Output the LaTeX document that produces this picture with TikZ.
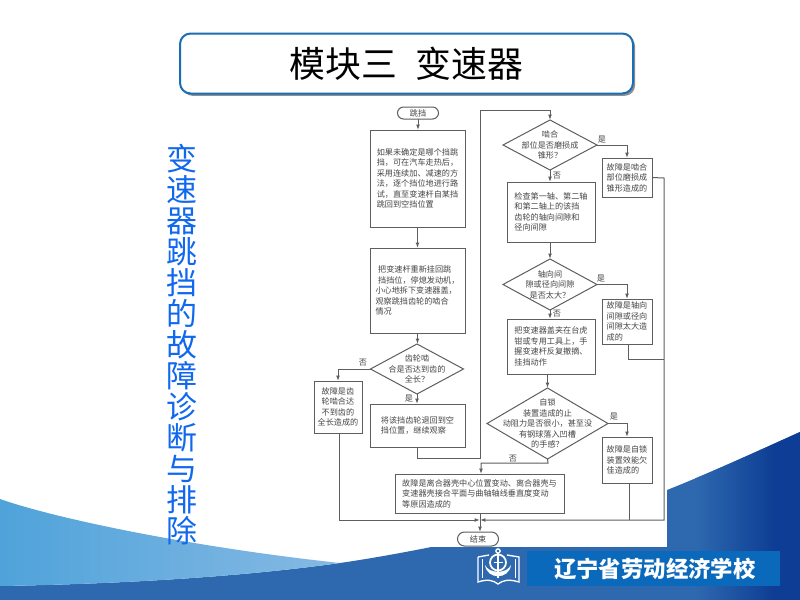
\documentclass[tikz,border=0pt]{standalone}
\usepackage{fontspec}
\setmainfont{Noto Sans CJK SC}
\usetikzlibrary{shapes.geometric,shapes.misc,arrows.meta,shadows}
\definecolor{ln}{HTML}{5E5E5E}
\definecolor{txt}{HTML}{454545}
\definecolor{deepb}{HTML}{2E69AF}
\definecolor{navyb}{HTML}{0D3D94}
\definecolor{lightl}{HTML}{4FA3DA}
\definecolor{lightr}{HTML}{86B9E4}
\definecolor{banner}{HTML}{0B69BC}
\definecolor{sideblue}{HTML}{0F68EE}
\definecolor{titleb}{HTML}{1B6DB4}
\begin{document}
\begin{tikzpicture}[x=0.75pt,y=-0.75pt,
  sz/.style 2 args={minimum width=#1*0.75pt,minimum height=#2*0.75pt},
  box/.style={rectangle,draw=ln,line width=0.75pt,fill=white,inner sep=0pt,outer sep=0pt,align=left,text=txt,font=\fontsize{6.1}{7.9}\selectfont},
  dia/.style={diamond,draw=ln,line width=0.75pt,fill=white,inner sep=0pt,outer sep=0pt},
  dtext/.style={align=center,text=txt,inner sep=0pt,font=\fontsize{6.1}{7.9}\selectfont},
  term/.style={rounded rectangle,draw=ln,line width=0.75pt,fill=white,inner sep=0pt,outer sep=0pt,text=txt,font=\fontsize{6.1}{7.9}\selectfont},
  flow/.style={draw=ln,line width=0.75pt,-{Latex[length=4pt,width=2.8pt]}},
  plain/.style={draw=ln,line width=0.75pt},
  lab/.style={font=\fontsize{6.1}{7.9}\selectfont,text=txt,inner sep=0pt},
  logo/.style={draw=white,line width=1pt}]
\useasboundingbox (0,0) rectangle (800,600);
\fill[white] (0,0) rectangle (800,600);
% ---- background ----
\begin{scope}
  \clip (0,600) -- (0,586) .. controls (120,584) and (240,577) .. (340,563)
        .. controls (450,547) and (600,510) .. (667,490)
        .. controls (710,473) and (760,450) .. (800,432) -- (800,600) -- cycle;
  \fill[deepb] (0,400) rectangle (800,600);
  \shade[left color=deepb,right color=navyb] (695,400) rectangle (775,600);
  \fill[navyb] (774.5,400) rectangle (800,600);
\end{scope}
\shade[left color=lightl,right color=lightr] (0,499) .. controls (60,520) and (200,548) .. (340,563)
   .. controls (240,577) and (120,584) .. (0,586) -- cycle;
\fill[white] (345,100) rectangle (667,547);
% ---- title ----
\node[rectangle,rounded corners=8pt,draw=titleb,line width=1.5pt,fill=white,
  minimum width=453*0.75pt,minimum height=60*0.75pt,inner sep=0pt,
  drop shadow={shadow xshift=1.6pt,shadow yshift=-1.8pt,fill=black!55,opacity=.8},
  font=\fontsize{26.9}{30}\selectfont] (title) at (406.5,63.5) {模块三\hspace{13.5pt}变速器};
% ---- side text ----
\node[text=sideblue,align=center,inner sep=0pt,font=\fontsize{23.2}{23.2}\selectfont] (side) at (182,344.5)
  {变\\速\\器\\跳\\挡\\的\\故\\障\\诊\\断\\与\\排\\除};
% ---- banner ----
\node[rectangle,fill=banner,minimum width=253*0.75pt,minimum height=35*0.75pt,inner sep=0pt,text=white,
  font=\fontsize{16.8}{18}\selectfont\bfseries] (bannerbox) at (653.5,568.5) {\hspace{2pt}辽宁省劳动经济学校};
% ---- logo ----
\draw[logo] (478,557) -- (478,582) .. controls (487,579) and (493,580) .. (498,584)
   .. controls (503,580) and (509,579) .. (519,582) -- (519,557) -- (507,555);
\draw[logo] (478,557) -- (489,555);
\draw[logo,line width=0.6pt] (482,559) -- (482,578);
\draw[logo,line width=0.6pt] (515,559) -- (515,578);
\draw[logo,line width=1.3pt] (498,562.5) circle[radius=6pt];
\draw[logo] (498,551) circle[radius=1.6pt];
\draw[logo] (498,553) -- (498,578);
\draw[logo] (493.5,562.5) -- (502.5,562.5);
\fill[white] (485,565) .. controls (487,580) and (509,580) .. (511,565)
   .. controls (507,574) and (489,574) .. (485,565) -- cycle;
% ---- flowchart nodes ----
\node[term,sz={41}{12}] (start) at (418,113) {跳挡};
\node[box,sz={95}{97}] (b1) at (417.5,178.5)
  {如果未确定是哪个挡跳\\ 挡，可在汽车走热后，\\采用连续加、减速的方\\法，逐个挡位地进行路\\试，直至变速杆自某挡\\跳回到空挡位置};
\node[box,sz={95}{85}] (b2) at (417.5,290.5)
  {\hspace{2pt}把变速杆重新挂回跳\\\hspace{2pt}挡挡位，停熄发动机，\\小心地拆下变速器盖，\\观察跳挡齿轮的啮合\\情况};
\node[dia,sz={93}{50},label={[dtext]center:{齿轮啮\\合是否达到齿的\\全长？}}] (d1) at (417,369) {};
\node[box,sz={48}{52}] (left) at (338,407)
  {\hspace{3pt}故障是齿\\\hspace{3pt}轮啮合达\\\hspace{3pt}不到齿的\\全长造成的};
\node[box,sz={95}{43}] (b3) at (417.5,425.5)
  {将该挡齿轮退回到空\\挡位置，继续观察};
\node[dia,sz={94}{50},label={[dtext]center:{啮合\\部位是否磨损成\\锥形？}}] (d2) at (550,145) {};
\node[box,sz={50}{39}] (r1) at (627,177.5)
  {故障是啮合\\部位磨损成\\锥形造成的};
\node[box,sz={88}{60}] (b4) at (551,212)
  {检查第一轴、第二轴\\和第二轴上的该挡\\齿轮的轴向间隙和\\径向间隙};
\node[dia,sz={94}{51},label={[dtext]center:{轴向间\\隙或径向间隙\\是否太大？}}] (d3) at (550,284.5) {};
\node[box,sz={50}{45}] (r2) at (627,321.5)
  {故障是轴向\\间隙或径向\\间隙太大造\\成的};
\node[box,sz={88}{55}] (b5) at (551,346.5)
  {把变速器盖夹在台虎\\钳或专用工具上，手\\握变速杆反复撤摘、\\挂挡动作};
\node[dia,sz={121}{71},label={[dtext]center:{自锁\\装置造成的止\\动阻力是否很小，甚至没\\有钢球落入凹槽\\的手感？}}] (d4) at (547.5,423.5) {};
\node[box,sz={50}{46}] (r3) at (627,460)
  {故障是自锁\\装置效能欠\\佳造成的};
\node[box,sz={169}{39}] (b6) at (479.5,493.5)
  {故障是离合器壳中心位置变动、离合器壳与\\变速器壳接合平面与曲轴轴线垂直度变动\\等原因造成的};
\node[term,sz={41}{14}] (end) at (478,539) {结束};
% ---- labels ----
\node[lab] (l1) at (363,363) {否};
\node[lab] (l2) at (409,399) {是};
\node[lab] (l3) at (602,140) {是};
\node[lab] (l4) at (557,176) {否};
\node[lab] (l5) at (601,279) {是};
\node[lab] (l6) at (557,314) {否};
\node[lab] (l7) at (614,417) {是};
\node[lab] (l8) at (513,459) {否};
% ---- free corners ----
\coordinate (a1) at (417.5,458);
\coordinate (a2) at (480,458);
\coordinate (a3) at (480,110);
\coordinate (j) at (480,520);
\coordinate (rr1) at (664,178);
\coordinate (rr2) at (664,359);
\coordinate (rr3) at (664,520);
\coordinate (l0) at (339,520);
\coordinate (c1) at (548,463);
\coordinate (c2) at (481,463);
\coordinate (r2d) at (628,359);
\coordinate (r3d) at (629,520);
% ---- connectors ----
\draw[flow] (start.south) -- (start.south |- b1.north);
\draw[flow] (b1.south) -- (b2.north);
\draw[flow] (b2.south) -- (b2.south |- d1.north);
\draw[flow] (d1.west) -| (left.north);
\draw[flow] (d1.south) -- (d1.south |- b3.north);
\draw[flow] (b3.south) -- (a1) -- (a2) -- (a3) -| (d2.north);
\draw[flow] (d2.east) -| (r1.north);
\draw[flow] (d2.south) -- (d2.south |- b4.north);
\draw[flow] (b4.south -| d3.north) -- (d3.north);
\draw[flow] (d3.east) -| (r2.north);
\draw[flow] (d3.south) -- (d3.south |- b5.north);
\draw[flow] (b5.south -| d4.north) -- (d4.north);
\draw[flow] (d4.east) -| (r3.north);
\draw[flow] (d4.south) -- (c1) -- (c2) -- (c2 |- b6.north);
\draw[flow] (left.south -| l0) -- (l0) -- (j);
\draw[flow] (r1.east) -- (rr1) -- (rr2) -- (rr3) -- (j);
\draw[plain] (r2.south -| r2d) -- (r2d) -- (rr2);
\draw[plain] (r3.south -| r3d) -- (r3d);
\draw[flow] (b6.south -| j) -- (j |- end.north);
\end{tikzpicture}
\end{document}
